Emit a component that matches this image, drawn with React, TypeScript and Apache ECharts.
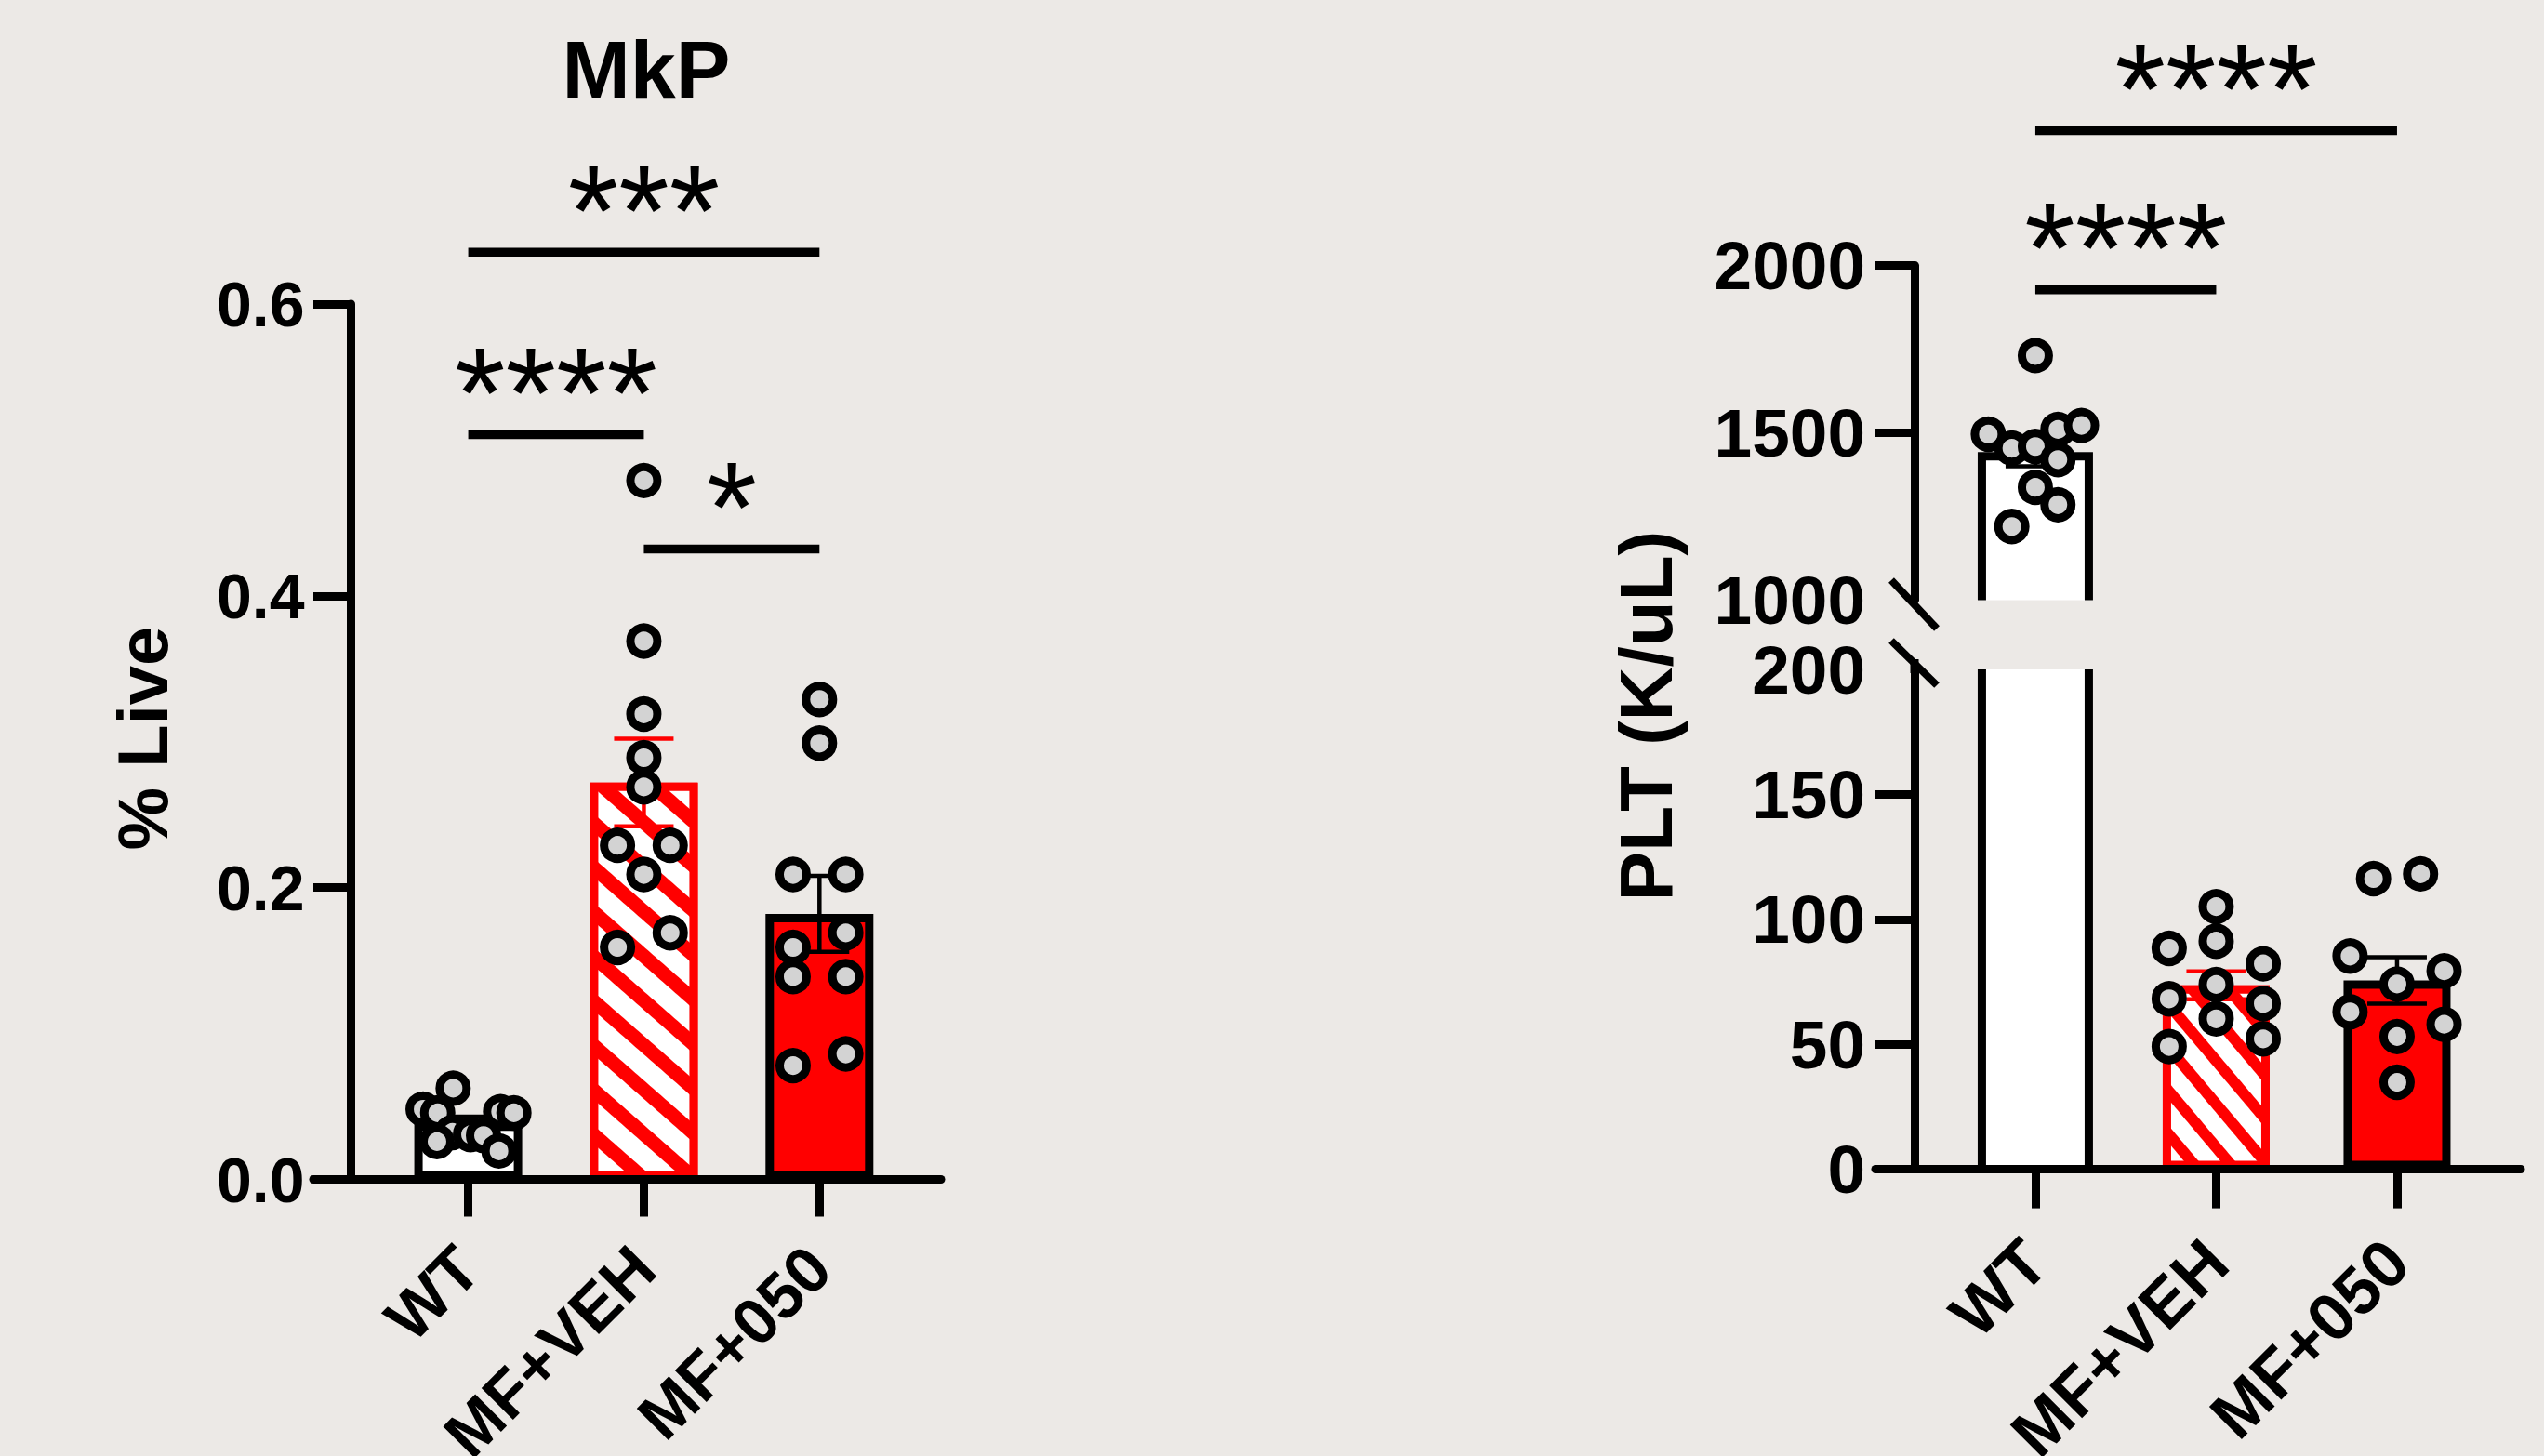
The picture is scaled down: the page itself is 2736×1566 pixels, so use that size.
import React, { useEffect, useRef } from 'react';
import * as echarts from 'echarts';

// ---------- data ----------
const categories = ['WT', 'MF+VEH', 'MF+050'];

// MkP panel (% Live)
const mkpMean = [0.039, 0.272, 0.182];
const mkpSem = [0.004, 0.03, 0.026];
const mkpWT = [0.0625, 0.0481, 0.0456, 0.0464, 0.0456, 0.0322, 0.0307, 0.0301, 0.0259, 0.0195];
const mkpWTJitter = [-0.086, -0.257, -0.174, 0.184, 0.26, -0.09, 0.013, 0.087, -0.178, 0.175];
const mkpVEH = [0.479, 0.369, 0.319, 0.289, 0.269, 0.229, 0.229, 0.209, 0.169, 0.159];
const mkpVEHJitter = [0, 0, 0, 0, 0, -0.15, 0.15, 0, 0.15, -0.15];
const mkp050 = [0.329, 0.299, 0.209, 0.209, 0.169, 0.159, 0.139, 0.139, 0.086, 0.078];
const mkp050Jitter = [0, 0, -0.15, 0.15, 0.15, -0.15, -0.15, 0.15, 0.15, -0.15];
const mkpSigLabels = ['***', '****', '*'];
const mkpSigFrom = [1, 1, 2];
const mkpSigTo = [3, 2, 3];
const mkpSigY = [0.6355, 0.5105, 0.432];

// PLT panel (K/uL)
const pltMean = [1442, 73.6, 75.6];
const pltSem = [42, 5.6, 9.3];
const pltWT = [1731, 1496, 1454, 1459, 1510, 1522, 1420, 1337, 1285, 1220];
const pltWTJitter = [0, -0.26, -0.13, 0, 0.125, 0.255, 0.125, 0, 0.125, -0.13];
const pltVEH = [105.1, 91.3, 88.4, 82.2, 73.9, 68.2, 66.3, 60.2, 52.2, 49.1];
const pltVEHJitter = [0, 0, -0.26, 0.26, 0, -0.26, 0.26, 0, 0.26, -0.26];
const plt050 = [116.3, 118.2, 85.3, 79.4, 74.1, 63.0, 58.0, 53.1, 34.8];
const plt050Jitter = [-0.13, 0.13, -0.26, 0.26, 0, -0.26, 0.26, 0, 0];
const pltSigLabels = ['****', '****'];
const pltSigFrom = [1, 1];
const pltSigTo = [3, 2];
const pltSigY = [2403, 1927];

// ---------- styles ----------
const FONT = '"Liberation Sans", Arial, Helvetica, sans-serif';
const BLACK = '#000000';
const RED = '#ff0000';
const BG = '#ece9e6';
const PT = '#d3d3d3';
const errColors = [BLACK, RED, BLACK];

const hatch = (rot: number, on: number, off: number) => ({
  symbol: 'rect',
  symbolSize: 1,
  color: '#ffffff',
  dashArrayX: [1, 0],
  dashArrayY: [on, off],
  rotation: rot,
});

const mkpBarStyles = [
  { color: '#ffffff', borderColor: BLACK, borderWidth: 9 },
  { color: RED, borderColor: RED, borderWidth: 9, decal: hatch(0.72, 21, 15) },
  { color: RED, borderColor: BLACK, borderWidth: 9 },
];
const pltBarStyles = [
  null,
  { color: RED, borderColor: RED, borderWidth: 9, decal: hatch(0.87, 18, 12) },
  { color: RED, borderColor: BLACK, borderWidth: 9 },
];

const jitter = (vals: number[], jit: number[], cat: number) =>
  vals.map((v, i) => [cat + jit[i], v]);

const errRender = (params: any, api: any) => {
  const x = api.value(0);
  const m = api.value(1);
  const s = api.value(2);
  const top = api.coord([x, m + s]);
  const bot = api.coord([x, m - s]);
  const hw = 32;
  const style = { stroke: errColors[Math.round(x) - 1], lineWidth: 4.5, fill: null };
  return {
    type: 'group',
    children: [
      { type: 'line', shape: { x1: top[0], y1: top[1], x2: bot[0], y2: bot[1] }, style },
      { type: 'line', shape: { x1: top[0] - hw, y1: top[1], x2: top[0] + hw, y2: top[1] }, style },
      { type: 'line', shape: { x1: bot[0] - hw, y1: bot[1], x2: bot[0] + hw, y2: bot[1] }, style },
    ],
  };
};

const sigRender = (labels: string[]) => (params: any, api: any) => {
  const a = api.coord([api.value(0), api.value(2)]);
  const b = api.coord([api.value(1), api.value(2)]);
  return {
    type: 'group',
    children: [
      {
        type: 'line',
        shape: { x1: a[0], y1: a[1], x2: b[0], y2: b[1] },
        style: { stroke: BLACK, lineWidth: 9.5 },
      },
      {
        type: 'text',
        x: (a[0] + b[0]) / 2,
        y: a[1] - 45,
        style: {
          text: labels[params.dataIndex],
          fontSize: 140,
          fontWeight: 'normal',
          fontFamily: FONT,
          fill: BLACK,
          align: 'center',
          verticalAlign: 'middle',
        },
      },
    ],
  };
};

// hollow (white) bar drawn with an inner border, open on clipped sides (broken axis)
const hollowBar = (params: any, api: any) => {
  const bw = 124;
  const lw = 9;
  const x = api.value(0);
  const v = api.value(1);
  const cs = params.coordSys;
  const c = api.coord([x, v]);
  const b = api.coord([x, 0]);
  const gTop = cs.y;
  const gBot = cs.y + cs.height;
  const topClipped = c[1] < gTop;
  const yTop = Math.max(c[1], gTop);
  const yBot = Math.min(b[1], gBot);
  const xl = c[0] - bw / 2;
  const xr = c[0] + bw / 2;
  const h = lw / 2;
  const stroke = { stroke: BLACK, lineWidth: lw, fill: null };
  const children: any[] = [
    { type: 'rect', shape: { x: xl, y: yTop, width: bw, height: yBot - yTop }, style: { fill: '#ffffff' } },
  ];
  if (topClipped) {
    children.push({ type: 'line', shape: { x1: xl + h, y1: yTop, x2: xl + h, y2: yBot }, style: stroke });
    children.push({ type: 'line', shape: { x1: xr - h, y1: yTop, x2: xr - h, y2: yBot }, style: stroke });
  } else {
    children.push({
      type: 'polyline',
      shape: { points: [[xl + h, yBot], [xl + h, yTop + h], [xr - h, yTop + h], [xr - h, yBot]] },
      style: { ...stroke, lineJoin: 'miter' },
    });
  }
  return { type: 'group', children };
};

const axisLineStyle = { color: BLACK, width: 9 };
const labelFont = (size: number) => ({
  fontFamily: FONT,
  fontWeight: 'bold' as const,
  fontSize: size,
  color: BLACK,
});

const catAxisLabel = (size: number, margin: number) => ({
  show: true,
  customValues: [1, 2, 3],
  formatter: (v: number) => categories[Math.round(v) - 1] ?? '',
  rotate: 45,
  margin,
  ...labelFont(size),
});

const option: any = {
  animation: false,
  backgroundColor: BG,
  grid: [
    { left: 337, top: 327, width: 675, height: 941.5, outerBoundsMode: 'none' },
    { left: 2017, top: 285.6, width: 694, height: 359.8, outerBoundsMode: 'none' },
    { left: 2017, top: 720, width: 694, height: 537.6, outerBoundsMode: 'none' },
  ],
  xAxis: [
    {
      type: 'value', gridIndex: 0, min: 0.118, max: 3.692, z: 10,
      axisLine: { show: true, onZero: false, lineStyle: axisLineStyle },
      axisTick: { show: true, customValues: [1, 2, 3], length: 40, lineStyle: axisLineStyle },
      axisLabel: catAxisLabel(70, 84),
      splitLine: { show: false },
    },
    { type: 'value', gridIndex: 1, min: 0.116, max: 3.684, show: false, splitLine: { show: false } },
    {
      type: 'value', gridIndex: 2, min: 0.116, max: 3.684, z: 10,
      axisLine: { show: true, onZero: false, lineStyle: axisLineStyle },
      axisTick: { show: true, customValues: [1, 2, 3], length: 42, lineStyle: axisLineStyle },
      axisLabel: catAxisLabel(72, 88),
      splitLine: { show: false },
    },
  ],
  yAxis: [
    {
      type: 'value', gridIndex: 0, min: 0, max: 0.6, interval: 0.2, offset: -40.5, z: 10,
      axisLine: { show: true, onZero: false, lineStyle: axisLineStyle },
      axisTick: { show: true, length: 40.5, lineStyle: axisLineStyle },
      axisLabel: { formatter: (v: number) => v.toFixed(1), margin: 50, ...labelFont(68) },
      splitLine: { show: false },
    },
    {
      type: 'value', gridIndex: 1, min: 1000, max: 2000, interval: 500, offset: -42, z: 10,
      axisLine: { show: true, onZero: false, lineStyle: axisLineStyle },
      axisTick: { show: true, customValues: [1500, 2000], length: 42, lineStyle: axisLineStyle },
      axisLabel: { formatter: (v: number) => String(Math.round(v)), margin: 53, ...labelFont(73) },
      splitLine: { show: false },
    },
    {
      type: 'value', gridIndex: 2, min: 0, max: 200, interval: 50, offset: -42, z: 10,
      axisLine: { show: true, onZero: false, lineStyle: axisLineStyle },
      axisTick: { show: true, customValues: [0, 50, 100, 150], length: 42, lineStyle: axisLineStyle },
      axisLabel: { formatter: (v: number) => String(Math.round(v)), margin: 53, ...labelFont(73) },
      splitLine: { show: false },
    },
  ],
  graphic: [
    {
      type: 'text', x: 695, y: 74, z: 100,
      style: { text: 'MkP', fontSize: 88, fontWeight: 'bold', fontFamily: FONT, fill: BLACK, align: 'center', verticalAlign: 'middle' },
    },
    {
      type: 'text', x: 153, y: 794, rotation: Math.PI / 2, z: 100,
      style: { text: '% Live', fontSize: 76, fontWeight: 'bold', fontFamily: FONT, fill: BLACK, align: 'center', verticalAlign: 'middle' },
    },
    {
      type: 'text', x: 1770, y: 770, rotation: Math.PI / 2, z: 100,
      style: { text: 'PLT (K/uL)', fontSize: 80, fontWeight: 'bold', fontFamily: FONT, fill: BLACK, align: 'center', verticalAlign: 'middle' },
    },
    // axis break marks
    { type: 'line', z: 100, shape: { x1: 2034, y1: 624, x2: 2083, y2: 676 }, style: { stroke: BLACK, lineWidth: 8 } },
    { type: 'line', z: 100, shape: { x1: 2034, y1: 689, x2: 2083, y2: 737 }, style: { stroke: BLACK, lineWidth: 8 } },
    { type: 'line', z: 100, shape: { x1: 2059, y1: 709, x2: 2059, y2: 724 }, style: { stroke: BLACK, lineWidth: 9 } },
  ],
  series: [
    // ---- MkP ----
    {
      type: 'bar', xAxisIndex: 0, yAxisIndex: 0, barWidth: 116, z: 2,
      data: mkpMean.map((m, i) => ({ value: [i + 1, m], itemStyle: mkpBarStyles[i] })),
    },
    {
      type: 'custom', xAxisIndex: 0, yAxisIndex: 0, z: 3, renderItem: errRender,
      encode: { x: 0, y: 1 },
      data: mkpMean.map((m, i) => [i + 1, m, mkpSem[i]]),
    },
    {
      type: 'scatter', xAxisIndex: 0, yAxisIndex: 0, z: 4, symbol: 'circle', symbolSize: 29,
      itemStyle: { color: PT, borderColor: BLACK, borderWidth: 9, opacity: 1 },
      data: [...jitter(mkpWT, mkpWTJitter, 1), ...jitter(mkpVEH, mkpVEHJitter, 2), ...jitter(mkp050, mkp050Jitter, 3)],
    },
    {
      type: 'custom', xAxisIndex: 0, yAxisIndex: 0, z: 5, renderItem: sigRender(mkpSigLabels),
      encode: { x: [0, 1], y: 2 },
      data: mkpSigY.map((y, i) => [mkpSigFrom[i], mkpSigTo[i], y]),
    },
    // ---- PLT ----
    {
      type: 'custom', xAxisIndex: 1, yAxisIndex: 1, z: 2, renderItem: hollowBar,
      encode: { x: 0, y: 1 }, data: [[1, pltMean[0]]],
    },
    {
      type: 'custom', xAxisIndex: 2, yAxisIndex: 2, z: 2, renderItem: hollowBar,
      encode: { x: 0, y: 1 }, data: [[1, pltMean[0]]],
    },
    {
      type: 'bar', xAxisIndex: 2, yAxisIndex: 2, barWidth: 115, z: 2,
      data: [1, 2].map((i) => ({ value: [i + 1, pltMean[i]], itemStyle: pltBarStyles[i] })),
    },
    {
      type: 'custom', xAxisIndex: 1, yAxisIndex: 1, z: 3, renderItem: errRender,
      encode: { x: 0, y: 1 }, data: [[1, pltMean[0], pltSem[0]]],
    },
    {
      type: 'custom', xAxisIndex: 2, yAxisIndex: 2, z: 3, renderItem: errRender,
      encode: { x: 0, y: 1 }, data: [1, 2].map((i) => [i + 1, pltMean[i], pltSem[i]]),
    },
    {
      type: 'scatter', xAxisIndex: 1, yAxisIndex: 1, z: 4, symbol: 'circle', symbolSize: 29,
      itemStyle: { color: PT, borderColor: BLACK, borderWidth: 9, opacity: 1 },
      data: jitter(pltWT, pltWTJitter, 1),
    },
    {
      type: 'scatter', xAxisIndex: 2, yAxisIndex: 2, z: 4, symbol: 'circle', symbolSize: 29,
      itemStyle: { color: PT, borderColor: BLACK, borderWidth: 9, opacity: 1 },
      data: [...jitter(pltVEH, pltVEHJitter, 2), ...jitter(plt050, plt050Jitter, 3)],
    },
    {
      type: 'custom', xAxisIndex: 1, yAxisIndex: 1, z: 5, renderItem: sigRender(pltSigLabels),
      encode: { x: [0, 1], y: 2 },
      data: pltSigY.map((y, i) => [pltSigFrom[i], pltSigTo[i], y]),
    },
  ],
};

export default function App() {
  const ref = useRef<HTMLDivElement>(null);
  useEffect(() => {
    document.body.style.margin = '0';
    document.body.style.background = BG;
    const chart = echarts.init(ref.current as HTMLDivElement, null, { renderer: 'svg' });
    chart.setOption(option);
    return () => chart.dispose();
  }, []);
  return <div ref={ref} style={{ width: 2736, height: 1566 }} />;
}
